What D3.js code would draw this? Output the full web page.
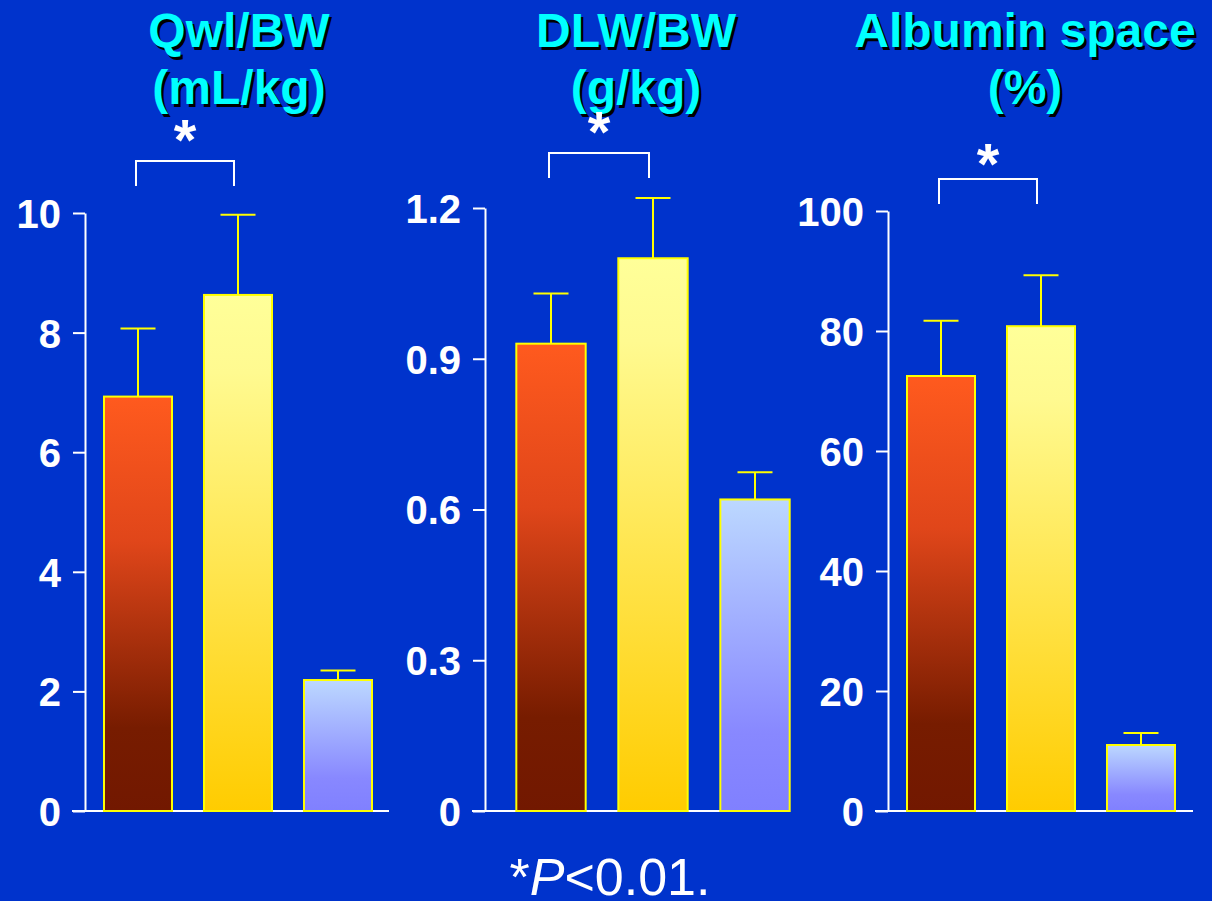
<!DOCTYPE html>
<html>
<head>
<meta charset="utf-8">
<script src="https://cdn.jsdelivr.net/npm/d3@7"></script>
<style>
  html, body { margin: 0; padding: 0; background: #0033cc; }
  svg { display: block; font-family: "Liberation Sans", Arial, sans-serif; }
  .tick text { fill: #fff; font-size: 40px; font-weight: bold; }
  .axis path, .axis line { stroke: #fff; stroke-width: 2px; }
  .title { font-size: 48px; font-weight: bold; text-anchor: middle; }
</style>
</head>
<body>
<svg id="chart"></svg>
<script>
// data
const groups = ["A", "B", "C"];

const titles = [
  ["Qwl/BW", "(mL/kg)"],
  ["DLW/BW", "(g/kg)"],
  ["Albumin space", "(%)"]
];

const qwlMean = [6.93, 8.63, 2.19];
const qwlErr  = [1.14, 1.34, 0.16];
const qwlTicks = [0, 2, 4, 6, 8, 10];

const dlwMean = [0.93, 1.10, 0.62];
const dlwErr  = [0.10, 0.12, 0.054];
const dlwTicks = [0, 0.3, 0.6, 0.9, 1.2];

const albMean = [72.5, 80.8, 11.0];
const albErr  = [9.2, 8.5, 2.0];
const albTicks = [0, 20, 40, 60, 80, 100];

const tickLabels = [
  ["0", "2", "4", "6", "8", "10"],
  ["0", "0.3", "0.6", "0.9", "1.2"],
  ["0", "20", "40", "60", "80", "100"]
];

const panels = [
  {mean: qwlMean, err: qwlErr, ticks: qwlTicks, max: 10},
  {mean: dlwMean, err: dlwErr, ticks: dlwTicks, max: 1.2},
  {mean: albMean, err: albErr, ticks: albTicks, max: 100}
];

// layout, per panel
const LAYOUT = [
  {axisX: 85,  axisEnd: 389,  band: [88, 388],   top: 213, titleX: 239,  bracketY: 161, starY: 160},
  {axisX: 485, axisEnd: 790,  band: [500, 806],  top: 208, titleX: 636,  bracketY: 153, starY: 152},
  {axisX: 888, axisEnd: 1193, band: [891, 1191], top: 211, titleX: 1025, bracketY: 179, starY: 184}
];
const BOTTOM = 811;
const WIDTH = 1212, HEIGHT = 901;

const svg = d3.select("#chart")
  .attr("width", WIDTH)
  .attr("height", HEIGHT);

svg.append("rect")
  .attr("width", WIDTH)
  .attr("height", HEIGHT)
  .attr("fill", "#0033cc");

// bar gradients
const fills = [
  [["0", "#ff5a1e"], ["0.35", "#e0461a"], ["0.8", "#771c00"], ["1", "#721800"]],
  [["0", "#ffff99"], ["0.15", "#fffa90"], ["1", "#ffcc00"]],
  [["0", "#bcd8ff"], ["0.75", "#8888ff"], ["1", "#8080ff"]]
];
const defs = svg.append("defs");
fills.forEach((stops, i) => {
  const grad = defs.append("linearGradient")
    .attr("id", "grad" + i)
    .attr("x1", 0).attr("y1", 0)
    .attr("x2", 0).attr("y2", 1);
  stops.forEach(s => grad.append("stop").attr("offset", s[0]).attr("stop-color", s[1]));
});

panels.forEach((p, pi) => {
  const L = LAYOUT[pi];
  const g = svg.append("g");

  const x = d3.scaleBand()
    .domain(groups)
    .range(L.band)
    .paddingInner(0.32)
    .paddingOuter(0.16);

  const y = d3.scaleLinear()
    .domain([0, p.max])
    .range([BOTTOM, L.top]);

  // titles with a drop shadow
  titles[pi].forEach((t, li) => {
    const ty = 47 + li * 57;
    g.append("text").attr("class", "title")
      .attr("x", L.titleX + 2.5).attr("y", ty + 2.5)
      .attr("fill", "#000").text(t);
    g.append("text").attr("class", "title")
      .attr("x", L.titleX).attr("y", ty)
      .attr("fill", "#00ffff").text(t);
  });

  // x baseline
  g.append("line")
    .attr("x1", L.axisX - 13).attr("x2", L.axisEnd)
    .attr("y1", BOTTOM).attr("y2", BOTTOM)
    .attr("stroke", "#fff").attr("stroke-width", 2);

  // y axis
  g.append("g")
    .attr("class", "axis")
    .attr("transform", "translate(" + L.axisX + ",0)")
    .call(d3.axisLeft(y)
      .tickValues(p.ticks)
      .tickFormat((d, i) => tickLabels[pi][i])
      .tickSize(12)
      .tickSizeOuter(0)
      .tickPadding(12))
    .selectAll("text")
      .attr("dy", "0.36em");

  // bars
  g.selectAll("rect.bar")
    .data(p.mean)
    .join("rect")
    .attr("class", "bar")
    .attr("x", (d, i) => x(groups[i]))
    .attr("width", x.bandwidth())
    .attr("y", d => y(d))
    .attr("height", d => y(0) - y(d))
    .attr("fill", (d, i) => "url(#grad" + i + ")")
    .attr("stroke", "#ffff00")
    .attr("stroke-width", 2);

  // error bars
  const cap = 17.5;
  p.mean.forEach((m, i) => {
    const cx = x(groups[i]) + x.bandwidth() / 2;
    g.append("line")
      .attr("x1", cx).attr("x2", cx)
      .attr("y1", y(m)).attr("y2", y(m + p.err[i]))
      .attr("stroke", "#ffff00").attr("stroke-width", 2);
    g.append("line")
      .attr("x1", cx - cap).attr("x2", cx + cap)
      .attr("y1", y(m + p.err[i])).attr("y2", y(m + p.err[i]))
      .attr("stroke", "#ffff00").attr("stroke-width", 2);
  });

  // significance bracket between first two bars
  const bx1 = x(groups[0]) + x.bandwidth() / 2 - 2;
  const bx2 = x(groups[1]) + x.bandwidth() / 2 - 4;
  g.append("path")
    .attr("d", "M" + bx1 + "," + (L.bracketY + 25) + "V" + L.bracketY + "H" + bx2 + "V" + (L.bracketY + 25))
    .attr("fill", "none")
    .attr("stroke", "#fff")
    .attr("stroke-width", 2);
  g.append("text")
    .attr("x", (bx1 + bx2) / 2)
    .attr("y", L.starY)
    .attr("text-anchor", "middle")
    .attr("fill", "#fff")
    .style("font-size", "58px")
    .style("font-weight", "bold")
    .text("*");
});

// footnote
const foot = svg.append("text")
  .attr("x", 610)
  .attr("y", 895)
  .attr("text-anchor", "middle")
  .attr("fill", "#fff")
  .style("font-size", "52px");
foot.append("tspan").text("*");
foot.append("tspan").style("font-style", "italic").text("P");
foot.append("tspan").text("<0.01.");
</script>
</body>
</html>
